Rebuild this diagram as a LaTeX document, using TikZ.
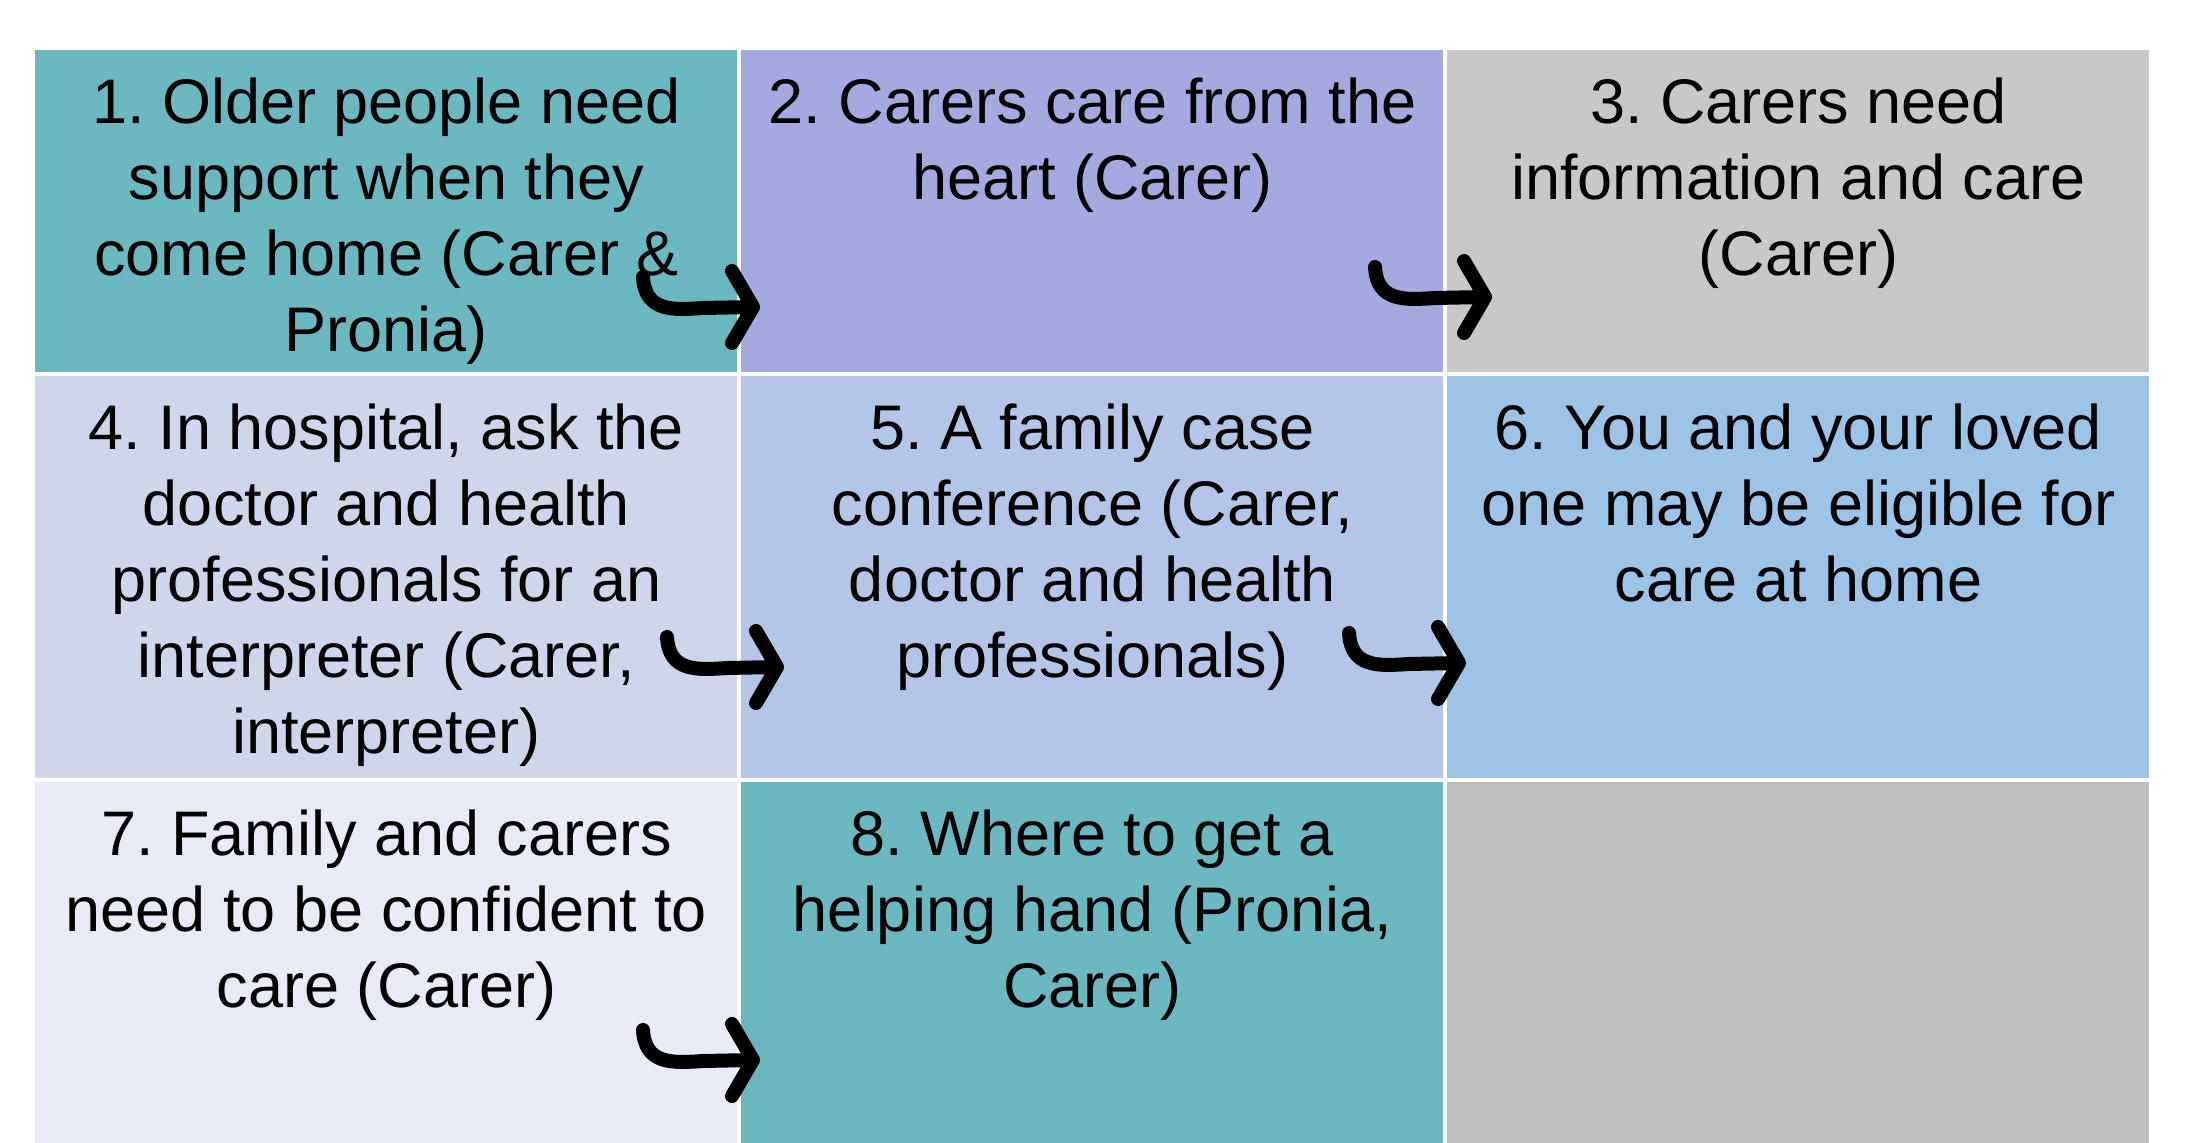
\documentclass[tikz,border=0pt]{standalone}
\usepackage{fontspec}
\setmainfont{Liberation Sans}
\frenchspacing
\definecolor{teal1}{HTML}{6BB8C0}
\definecolor{lav}{HTML}{A6A9DF}
\definecolor{gray3}{HTML}{C8C8C8}
\definecolor{c4col}{HTML}{CFD5EA}
\definecolor{c5col}{HTML}{B3C6E7}
\definecolor{c6col}{HTML}{9DC3E6}
\definecolor{c7col}{HTML}{E8EBF5}
\definecolor{gray9}{HTML}{BFBFBF}
\begin{document}
\begin{tikzpicture}[x=0.5pt,y=-0.5pt,
  cell/.style={draw=none,inner sep=0pt,anchor=north west,minimum width=351pt},
  row1/.style={minimum height=161pt},
  row2/.style={minimum height=201pt},
  row3/.style={minimum height=180.5pt},
  txt/.style={inner sep=0pt,anchor=north,align=center,font=\fontsize{31.5}{38}\selectfont\frenchspacing},
  arr/.style={line width=7pt,line cap=round,line join=round,black}]
\useasboundingbox[fill=white] (0,0) rectangle (2187,1143);
% cells
\node[cell,row1,fill=teal1] (c1) at (35,50) {};
\node[cell,row1,fill=lav]   (c2) at (741,50) {};
\node[cell,row1,fill=gray3] (c3) at (1447,50) {};
\node[cell,row2,fill=c4col] (c4) at (35,376) {};
\node[cell,row2,fill=c5col] (c5) at (741,376) {};
\node[cell,row2,fill=c6col] (c6) at (1447,376) {};
\node[cell,row3,fill=c7col] (c7) at (35,782) {};
\node[cell,row3,fill=teal1] (c8) at (741,782) {};
\node[cell,row3,fill=gray9] (c9) at (1447,782) {};
% texts
\node[txt] (t1) at ([yshift=-13.5pt]c1.north) {1. Older people need\\support when they\\come home (Carer \&\\Pronia)};
\node[txt] (t2) at ([yshift=-13.5pt]c2.north) {2. Carers care from the\\heart (Carer)};
\node[txt] (t3) at ([yshift=-13.5pt]c3.north) {3. Carers need\\information and care\\(Carer)};
\node[txt] (t4) at ([yshift=-13.5pt]c4.north) {4. In hospital, ask the\\doctor and health\\professionals for an\\interpreter (Carer,\\interpreter)};
\node[txt] (t5) at ([yshift=-13.5pt]c5.north) {5. A family case\\conference (Carer,\\doctor and health\\professionals)};
\node[txt] (t6) at ([yshift=-13.5pt]c6.north) {6. You and your loved\\one may be eligible for\\care at home};
\node[txt] (t7) at ([yshift=-13.5pt]c7.north) {7. Family and carers\\need to be confident to\\care (Carer)};
\node[txt] (t8) at ([yshift=-13.5pt]c8.north) {8. Where to get a\\helping hand (Pronia,\\Carer)};
% arrow tips
\coordinate (a1) at (753,307);
\coordinate (a2) at (1485,297);
\coordinate (a3) at (777,667);
\coordinate (a4) at (1459,663);
\coordinate (a5) at (753,1060);
\foreach \a in {a1,a2,a3,a4,a5}{
  \draw[arr,shift={(\a)}] (-110,-30) .. controls (-108,5) and (-80,3) .. (-50,1) -- (0,0)
     (-21,-36) -- (0,0) -- (-21,36);
}
\end{tikzpicture}
\end{document}
